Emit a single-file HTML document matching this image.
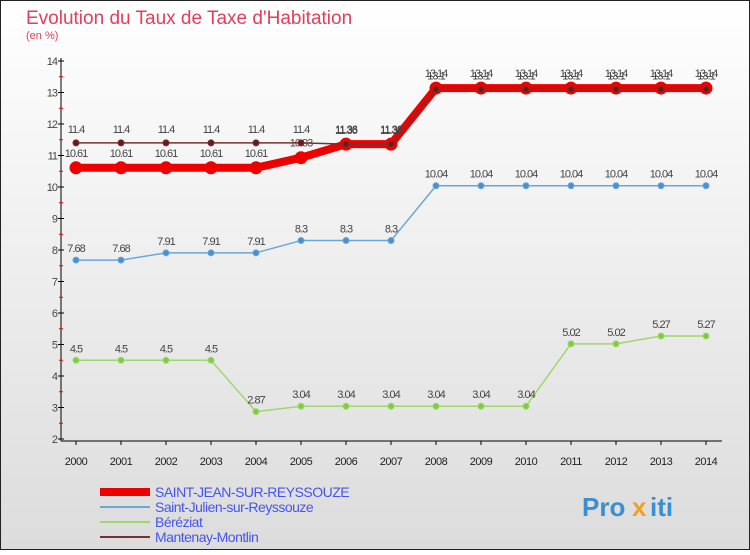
<!DOCTYPE html>
<html><head><meta charset="utf-8"><style>
body{margin:0;width:750px;height:550px;overflow:hidden;font-family:"Liberation Sans",sans-serif}
</style></head><body>
<svg width="750" height="550" xmlns="http://www.w3.org/2000/svg">
<defs><linearGradient id="bg" x1="0" y1="0" x2="0" y2="1"><stop offset="0" stop-color="#ffffff"/><stop offset="1" stop-color="#dcdcdc"/></linearGradient></defs>
<rect x="0.5" y="0.5" width="749" height="549" fill="url(#bg)" stroke="#222"/>
<text x="26" y="24" font-size="19" fill="#e0405a">Evolution du Taux de Taxe d'Habitation</text>
<text x="26" y="39" font-size="11" fill="#e0405a">(en %)</text>
<g id="axes"></g><g id="series"></g><g id="legend"></g>
<g font-size="26" font-weight="bold">
<text x="582" y="516" fill="#3a8fd0">Pro</text><text x="632" y="516" fill="#f0a020">x</text><text x="650" y="516" fill="#3a8fd0">iti</text></g>
</svg>
<script>
const years=[2000,2001,2002,2003,2004,2005,2006,2007,2008,2009,2010,2011,2012,2013,2014];
const yTicks=[2,3,4,5,6,7,8,9,10,11,12,13,14];
const saintJean=[10.61,10.61,10.61,10.61,10.61,10.93,11.36,11.36,13.14,13.14,13.14,13.14,13.14,13.14,13.14];
const saintJulien=[7.68,7.68,7.91,7.91,7.91,8.3,8.3,8.3,10.04,10.04,10.04,10.04,10.04,10.04,10.04];
const bereziat=[4.5,4.5,4.5,4.5,2.87,3.04,3.04,3.04,3.04,3.04,3.04,5.02,5.02,5.27,5.27];
const mantenay=[11.4,11.4,11.4,11.4,11.4,11.4,11.36,11.36,13.1,13.1,13.1,13.1,13.1,13.1,13.1];
const NS="http://www.w3.org/2000/svg";
const X=i=>76+i*45, Y=v=>439-(v-2)*31.5;
function mk(t,a,p){const e=document.createElementNS(NS,t);for(const k in a)e.setAttribute(k,a[k]);p.appendChild(e);return e;}
const ax=document.getElementById('axes');
mk('line',{x1:61,y1:58,x2:61,y2:441,stroke:'#000'},ax);
mk('line',{x1:61,y1:441,x2:722,y2:441,stroke:'#000'},ax);
yTicks.forEach(v=>{const t=mk('text',{x:57,y:Y(v)+4,'font-size':11,'text-anchor':'end',fill:'#444','letter-spacing':'-1'},ax);t.textContent=v;

mk('line',{x1:58,y1:Y(v),x2:64,y2:Y(v),stroke:'#000'},ax);
if(v<14)mk('line',{x1:59,y1:Y(v+0.5),x2:63,y2:Y(v+0.5),stroke:'#e00'},ax);});
years.forEach((y,i)=>{const t=mk('text',{x:X(i),y:465,'font-size':11,'text-anchor':'middle',fill:'#222','letter-spacing':'-0.5'},ax);t.textContent=y;

mk('line',{x1:X(i),y1:441,x2:X(i),y2:445,stroke:'#000'},ax);});
const sg=document.getElementById('series');
function series(name,data,color,w,r,fill,labels,dy){const g=mk('g',{},sg);
mk('polyline',{points:data.map((v,i)=>X(i)+','+Y(v)).join(' '),fill:'none',stroke:color,'stroke-width':w,'stroke-linejoin':'round'},g);
data.forEach((v,i)=>{const c=mk('circle',{cx:X(i),cy:Y(v),r:r,fill:fill,stroke:color},g);
if(labels){const t=mk('text',{x:X(i),y:Y(v)+dy,'font-size':11,'text-anchor':'middle',fill:'#444','letter-spacing':'-1'},g);t.textContent=v;}});}
series('series-saint-julien',saintJulien,'#6aa7d8',1.5,3,'#4a90d0',true,-8);
series('series-bereziat',bereziat,'#9fd86a',1.5,3,'#80cc40',true,-8);
series('series-saint-jean',saintJean,'#ee0000',8,6,'#ee0000',true,-11);
series('series-mantenay',mantenay,'#7a3030',1.5,3,'#6a1818',true,-10);
const lg=document.getElementById('legend');
[['SAINT-JEAN-SUR-REYSSOUZE','#ee0000',8],['Saint-Julien-sur-Reyssouze','#6aa7d8',2],['Béréziat','#9fd86a',2],['Mantenay-Montlin','#7a3030',2]].forEach((d,i)=>{
const g=mk('g',{},lg);
const y=492+i*15;mk('line',{x1:100,y1:y,x2:150,y2:y,stroke:d[1],'stroke-width':d[2]},g);
const t=mk('text',{x:155,y:y+5,'font-size':14,fill:'#4455ee','letter-spacing':'-0.5'},g);t.textContent=d[0];});
</script>
</body></html>
